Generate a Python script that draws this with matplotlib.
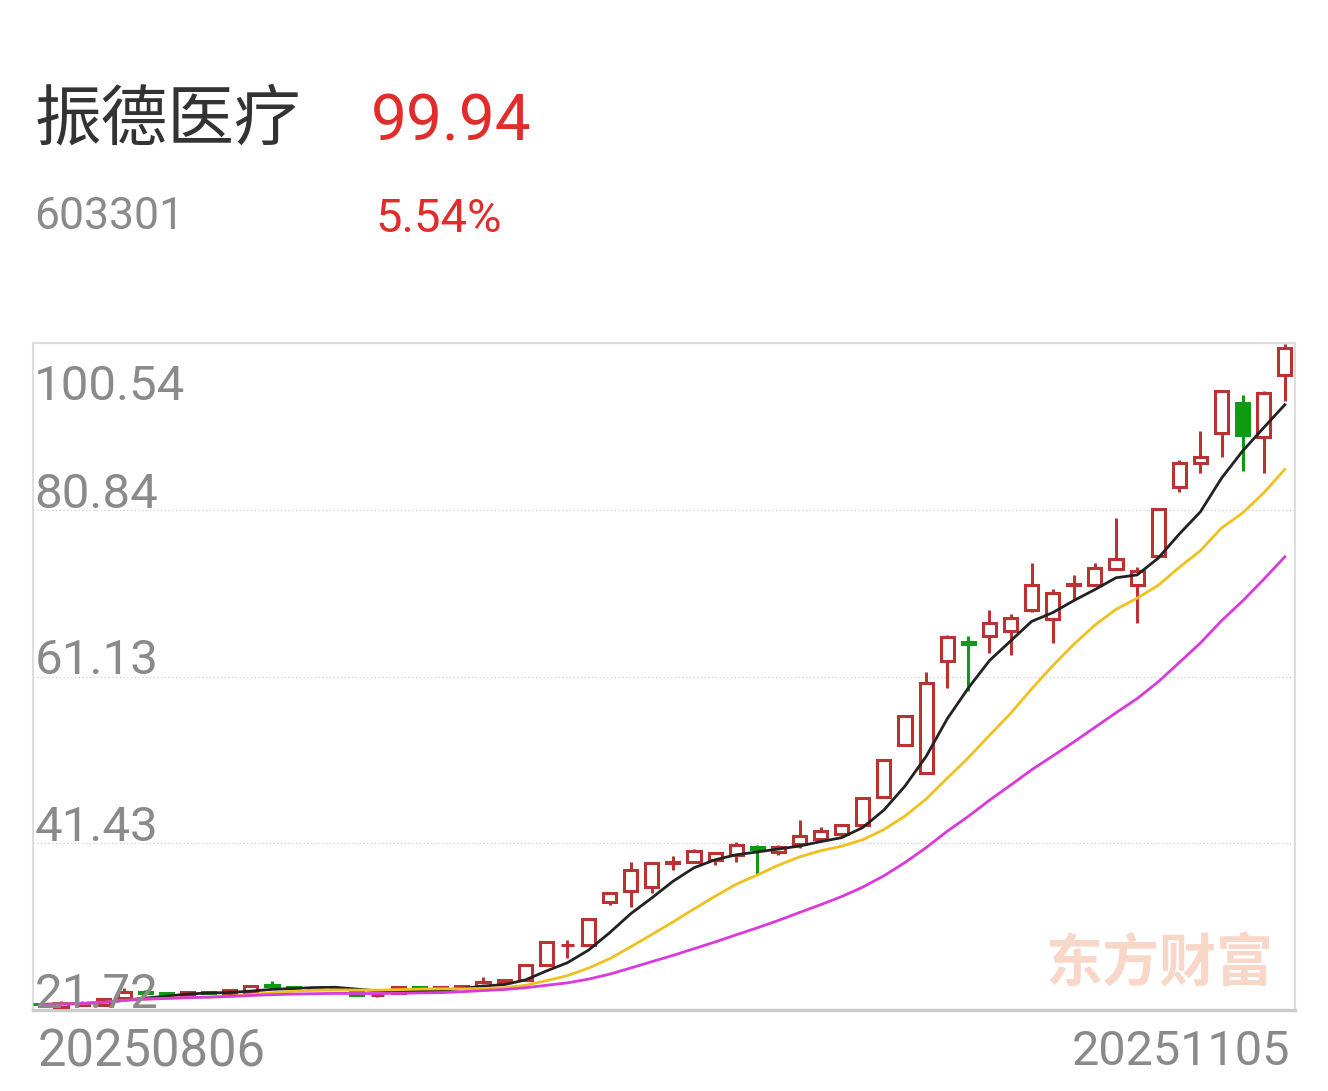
import numpy as np
import pandas as pd
import matplotlib
import matplotlib.pyplot as plt
import matplotlib.transforms as mtransforms

matplotlib.use('Agg')

# header texts
stock_name = "振德医疗"
stock_code = "603301"
last_price = "99.94"
pct_change = "5.54%"
date_labels = ["20250806", "20251105"]
y_tick_values = [21.72, 41.43, 61.13, 80.84, 100.54]
y_tick_labels = ["21.72", "41.43", "61.13", "80.84", "100.54"]
watermark = "东方财富"

# daily OHLC, 60 trading days
opens = [22.45, 22.10, 22.30, 22.31, 23.14, 23.80, 23.70, 23.50, 23.80, 23.61,
         23.85, 24.70, 24.45, 24.20, 24.15, 23.85, 23.45, 23.73, 24.44, 24.32,
         24.32, 24.56, 25.03, 25.27, 27.04, 29.35, 29.40, 34.48, 35.78, 36.26,
         39.15, 39.21, 39.45, 40.04, 40.98, 40.39, 41.34, 41.93, 42.52, 43.58,
         46.89, 53.04, 49.71, 62.96, 65.21, 65.91, 66.51, 68.99, 67.92, 71.95,
         71.94, 73.83, 71.94, 75.37, 83.52, 86.36, 89.90, 93.45, 89.43, 96.76]
closes = [22.38, 22.50, 22.60, 23.02, 23.85, 23.70, 23.60, 23.85, 23.72, 24.08,
          24.56, 24.60, 24.35, 24.30, 24.25, 23.50, 23.52, 24.44, 24.32, 24.44,
          24.56, 25.03, 25.27, 27.04, 29.76, 29.45, 32.47, 35.55, 38.27, 39.09,
          39.25, 40.51, 40.27, 41.22, 40.75, 40.98, 42.28, 42.87, 43.58, 46.77,
          51.26, 56.46, 60.36, 65.80, 64.97, 67.45, 68.04, 71.94, 71.00, 72.10,
          73.95, 75.02, 73.60, 80.92, 86.36, 87.07, 94.87, 89.67, 94.69, 99.94]
highs = [22.60, 22.80, 22.75, 23.10, 24.32, 24.10, 23.85, 24.00, 23.90, 24.20,
         24.70, 25.15, 24.60, 24.40, 24.35, 23.90, 23.60, 24.50, 24.50, 24.50,
         24.70, 25.60, 25.40, 27.10, 29.90, 29.99, 32.50, 35.60, 39.21, 39.21,
         39.92, 40.70, 40.40, 41.57, 41.22, 41.22, 44.17, 43.34, 43.70, 46.90,
         51.40, 56.50, 61.66, 66.03, 65.91, 68.99, 68.52, 74.54, 71.47, 73.12,
         74.54, 79.86, 74.07, 81.00, 86.71, 90.14, 95.00, 94.39, 94.87, 100.42]
lows = [22.20, 21.75, 22.20, 22.20, 23.00, 23.60, 23.50, 23.40, 23.60, 23.50,
        23.75, 24.50, 24.25, 24.10, 24.05, 23.45, 23.30, 23.65, 24.25, 24.25,
        24.25, 24.50, 24.90, 25.20, 26.90, 27.87, 29.30, 34.13, 33.89, 35.55,
        38.27, 39.10, 38.86, 39.21, 37.67, 40.04, 40.87, 41.80, 42.16, 43.40,
        46.80, 52.90, 49.60, 59.77, 59.42, 63.91, 63.67, 68.80, 65.09, 70.17,
        71.80, 73.70, 67.45, 75.30, 82.93, 85.18, 87.07, 85.41, 85.18, 93.69]

RED = '#b93333'
GREEN = '#0f9a12'
TXT_RED = '#e22c2c'
GREY = '#8a8a8a'

plt.rcParams['font.family'] = ['Roboto', 'Noto Sans CJK SC', 'DejaVu Sans']

fig = plt.figure(figsize=(13.28, 10.91), dpi=100)
fig.patch.set_facecolor('white')

fig.text(0.026, 0.889, stock_name, fontsize=48, color='#333333',
         family=['Noto Sans CJK SC'], va='center', ha='left')
fig.text(0.279, 0.888, last_price, fontsize=46, color=TXT_RED, va='center', ha='left')
fig.text(0.026, 0.801, stock_code, fontsize=32, color=GREY, va='center', ha='left')
fig.text(0.283, 0.799, pct_change, fontsize=34, color=TXT_RED, va='center', ha='left')

ax = fig.add_axes([0.0248, 0.0742, 0.9503, 0.6114])

o = np.array(opens)
c = np.array(closes)
h = np.array(highs)
l = np.array(lows)
x = np.arange(len(o))
up = c >= o
body_lo = np.minimum(o, c)
body_hi = np.maximum(o, c)
body_h = np.maximum(body_hi - body_lo, 0.08)
colors = np.where(up, RED, GREEN)

# wicks (not through the hollow body)
ax.vlines(x, body_hi, h, colors=colors, linewidth=2.2, zorder=2)
ax.vlines(x, l, body_lo, colors=colors, linewidth=2.2, zorder=2)
ax.bar(x[up], body_h[up], bottom=body_lo[up], width=0.62, facecolor='white',
       edgecolor=RED, linewidth=2.2, zorder=3)
ax.bar(x[~up], body_h[~up], bottom=body_lo[~up], width=0.62, facecolor=GREEN,
       edgecolor=GREEN, linewidth=2.2, zorder=3)

# moving averages
s = pd.Series(c)
ax.plot(x, s.rolling(5, min_periods=1).mean(), color='#222222', lw=2.0, zorder=4)
ax.plot(x, s.rolling(10, min_periods=1).mean(), color='#efc020', lw=2.0, zorder=4)
ax.plot(x, s.rolling(20, min_periods=1).mean(), color='#d93adb', lw=2.0, zorder=4)

ax.set_xlim(-0.33, 59.48)
ax.set_ylim(y_tick_values[0], y_tick_values[-1])
ax.set_yticks(y_tick_values)
ax.set_xticks([])
ax.tick_params(axis='y', length=0, labelleft=False)
ax.grid(axis='y', linestyle=(0, (1, 2)), color='#cccccc', linewidth=0.9)

for side in ['top', 'left', 'right']:
    ax.spines[side].set_color('#dddddd')
    ax.spines[side].set_linewidth(1.5)
ax.spines['bottom'].set_color('#cccccc')
ax.spines['bottom'].set_linewidth(2.5)

blend = mtransforms.blended_transform_factory(ax.transAxes, ax.transData)
for v, lab in zip(y_tick_values, y_tick_labels):
    dy = -41 if v == y_tick_values[-1] else 1.5
    ax.annotate(lab, xy=(0, v), xycoords=blend, xytext=(1, dy),
                textcoords='offset points', fontsize=35.5, color=GREY,
                va='baseline', ha='left', zorder=5)

ax.text(0.004, -0.063, date_labels[0], transform=ax.transAxes, fontsize=36.5,
        color=GREY, va='center', ha='left')
ax.text(0.996, -0.063, date_labels[1], transform=ax.transAxes, fontsize=35,
        color=GREY, va='center', ha='right')

ax.text(0.893, 0.070, watermark, transform=ax.transAxes, fontsize=41,
        fontweight='bold', color='#f8d6c8', family=['Noto Sans CJK SC'],
        va='center', ha='center', zorder=1)

fig.savefig('out.png', dpi=100)
